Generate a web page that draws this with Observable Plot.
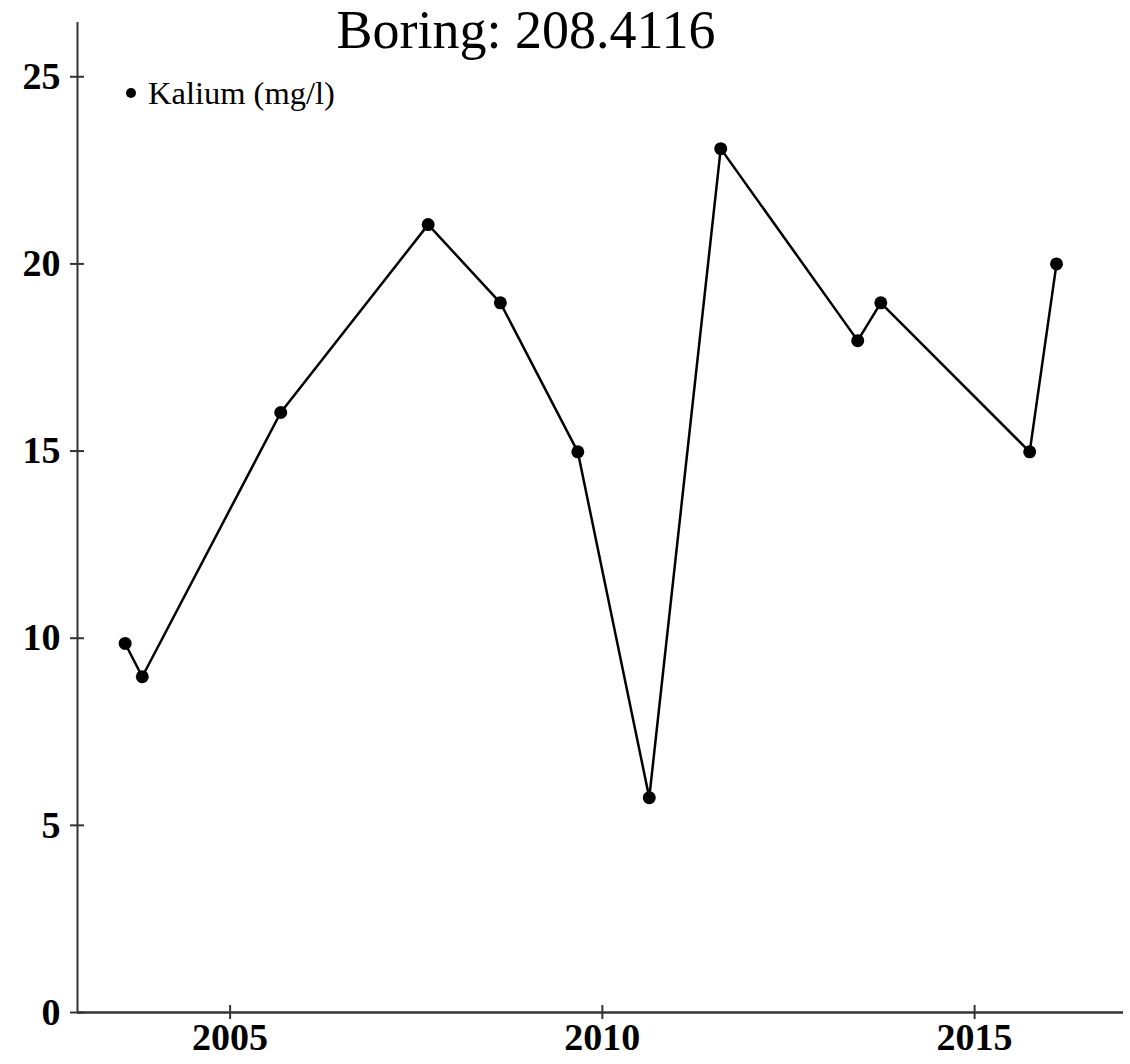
<!DOCTYPE html>
<html><head><meta charset="utf-8">
<script src="https://cdn.jsdelivr.net/npm/d3@7"></script>
<script src="https://cdn.jsdelivr.net/npm/@observablehq/plot@0.6"></script>
<style>
body{margin:0;background:#fff;}
#wrap{position:relative;width:1130px;height:1064px;}
#title{position:absolute;left:0;top:3px;width:1052px;text-align:center;font:54px/54px "Liberation Serif",serif;color:#000;}
#legend{position:absolute;left:148px;top:77px;font:32.5px/32.5px "Liberation Serif",serif;color:#000;white-space:nowrap;}
#legdot{position:absolute;left:126px;top:88px;width:10px;height:10px;border-radius:50%;background:#000;}
</style></head>
<body>
<div id="wrap">
<div id="chart"></div>
<div id="title">Boring: 208.4116</div>
<div id="legdot"></div>
<div id="legend">Kalium (mg/l)</div>
</div>
<script>
const years = [2003.59, 2003.82, 2005.68, 2007.66, 2008.63, 2009.67, 2010.63, 2011.59, 2013.43, 2013.74, 2015.74, 2016.10];
const kalium = [9.86, 8.97, 16.03, 21.05, 18.96, 14.98, 5.74, 23.08, 17.95, 18.96, 14.98, 20.0];
const yTicks = [0, 5, 10, 15, 20, 25];
const xTicks = [2005, 2010, 2015];
const xDomain = [2002.95, 2017.0];
const yDomain = [0, 26.45];

const data = years.map((x, i) => ({year: x, value: kalium[i]}));

const axisColor = "#333";
const chart = Plot.plot({
  width: 1130,
  height: 1064,
  marginTop: 22,
  marginBottom: 52,
  marginLeft: 77,
  marginRight: 7,
  style: {fontFamily: '"Liberation Serif", serif', background: "white", color: "#000"},
  x: {domain: xDomain, label: null},
  y: {domain: yDomain, label: null},
  marks: [
    Plot.ruleX([xDomain[0]], {stroke: axisColor, strokeWidth: 2}),
    Plot.ruleY([yDomain[0]], {stroke: axisColor, strokeWidth: 2.5}),
    Plot.axisY({ticks: yTicks, tickSize: 14, dx: 7, tickPadding: 10, stroke: axisColor, strokeWidth: 2,
      fontSize: 38, fontWeight: "bold", fill: "#000", tickFormat: d => String(d), label: null}),
    Plot.axisX({ticks: xTicks, tickSize: 14, dy: -7, tickPadding: 4, stroke: axisColor, strokeWidth: 2,
      fontSize: 38, fontWeight: "bold", fill: "#000", tickFormat: d => String(d), label: null}),
    Plot.line(data, {x: "year", y: "value", stroke: "#000", strokeWidth: 2.5}),
    Plot.dot(data, {x: "year", y: "value", r: 6.5, fill: "#000", stroke: "none"})
  ]
});
document.getElementById("chart").appendChild(chart);
</script>
</body></html>
